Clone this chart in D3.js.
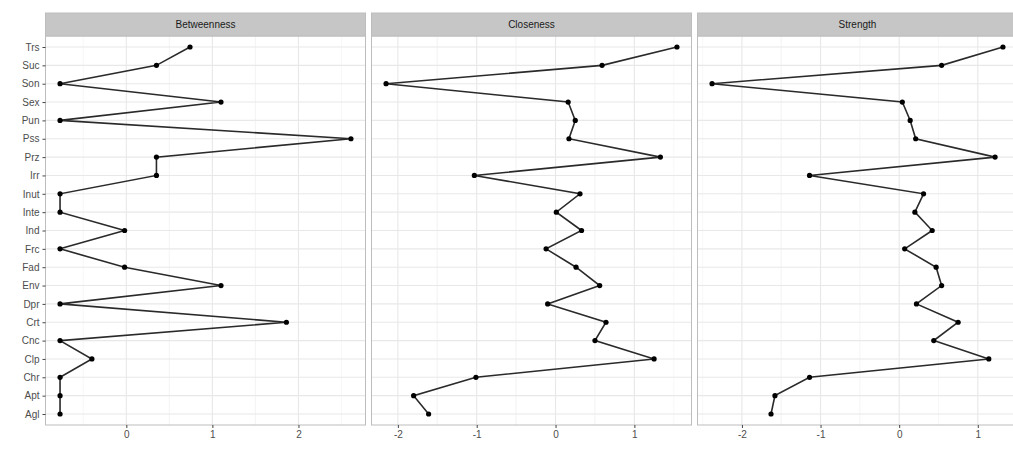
<!DOCTYPE html>
<html>
<head>
<meta charset="utf-8">
<script src="https://cdn.jsdelivr.net/npm/d3@7"></script>
<style>
  body { margin: 0; background: #fff; }
  svg { display: block; font-family: "Liberation Sans", Arial, sans-serif; }
</style>
</head>
<body>
<script>
// Nodes, bottom to top
const categories = ["Agl", "Apt", "Chr", "Clp", "Cnc", "Crt", "Dpr", "Env", "Fad", "Frc", "Ind",
    "Inte", "Inut", "Irr", "Prz", "Pss", "Pun", "Sex", "Son", "Suc", "Trs"];

const panels = ["Betweenness", "Closeness", "Strength"];

const betweenness = [-0.77, -0.77, -0.77, -0.40, -0.77, 1.86, -0.77, 1.10, -0.02, -0.77, -0.02,
    -0.77, -0.77, 0.35, 0.35, 2.61, -0.77, 1.10, -0.77, 0.35, 0.74];
const closeness = [-1.61, -1.80, -1.01, 1.25, 0.50, 0.64, -0.10, 0.56, 0.26, -0.12, 0.33,
    0.01, 0.31, -1.03, 1.33, 0.17, 0.25, 0.16, -2.15, 0.59, 1.54];
const strength = [-1.63, -1.58, -1.14, 1.14, 0.44, 0.75, 0.22, 0.54, 0.47, 0.07, 0.42,
    0.20, 0.31, -1.14, 1.22, 0.21, 0.14, 0.04, -2.38, 0.54, 1.32];

const betweennessTicks = [0, 1, 2];
const closenessTicks = [-2, -1, 0, 1];
const strengthTicks = [-2, -1, 0, 1];

const width = 1013, height = 449;
const margin = { top: 13, left: 45.5, bottom: 24 };
const stripH = 23;
const panelW = 320, gap = 6;
const panelTop = margin.top + stripH;
const panelBottom = height - margin.bottom;

const svg = d3.select("body").append("svg")
    .attr("width", width)
    .attr("height", height);

// discrete y scale, padded like ggplot's default
const yScale = d3.scalePoint()
    .domain(categories)
    .range([panelBottom, panelTop])
    .padding(0.6);

const series = [
    { name: panels[0], values: betweenness, ticks: betweennessTicks },
    { name: panels[1], values: closeness, ticks: closenessTicks },
    { name: panels[2], values: strength, ticks: strengthTicks },
];

series.forEach((s, i) => {
    const x0 = margin.left + i * (panelW + gap);
    const ext = d3.extent(s.values);
    const pad = (ext[1] - ext[0]) * 0.05;
    const xScale = d3.scaleLinear()
        .domain([ext[0] - pad, ext[1] + pad])
        .range([x0, x0 + panelW]);

    const g = svg.append("g");

    // minor grid
    const minor = [];
    s.ticks.forEach(t => minor.push(t - 0.5, t + 0.5));
    g.selectAll(".minor")
        .data(minor.filter(v => v > xScale.domain()[0] && v < xScale.domain()[1]))
        .enter().append("line")
        .attr("x1", d => xScale(d)).attr("x2", d => xScale(d))
        .attr("y1", panelTop).attr("y2", panelBottom)
        .attr("stroke", "#f3f3f3").attr("stroke-width", 0.6);

    // major grid
    g.selectAll(".vgrid")
        .data(s.ticks)
        .enter().append("line")
        .attr("x1", d => xScale(d)).attr("x2", d => xScale(d))
        .attr("y1", panelTop).attr("y2", panelBottom)
        .attr("stroke", "#e8e8e8").attr("stroke-width", 1.1);

    g.selectAll(".hgrid")
        .data(categories)
        .enter().append("line")
        .attr("x1", x0).attr("x2", x0 + panelW)
        .attr("y1", d => yScale(d)).attr("y2", d => yScale(d))
        .attr("stroke", "#e8e8e8").attr("stroke-width", 1.1);

    // line + points
    const pts = categories.map((c, k) => ({ c: c, v: s.values[k] }));
    const line = d3.line()
        .x(d => xScale(d.v))
        .y(d => yScale(d.c));

    g.append("path")
        .datum(pts)
        .attr("d", line)
        .attr("fill", "none")
        .attr("stroke", "#2a2a2a")
        .attr("stroke-width", 1.6);

    g.selectAll(".pt")
        .data(pts)
        .enter().append("circle")
        .attr("cx", d => xScale(d.v))
        .attr("cy", d => yScale(d.c))
        .attr("r", 2.6)
        .attr("fill", "#000");

    // panel border
    g.append("rect")
        .attr("x", x0).attr("y", panelTop)
        .attr("width", panelW).attr("height", panelBottom - panelTop)
        .attr("fill", "none")
        .attr("stroke", "#bdbdbd").attr("stroke-width", 1);

    // strip
    g.append("rect")
        .attr("x", x0).attr("y", margin.top)
        .attr("width", panelW).attr("height", stripH)
        .attr("fill", "#c6c6c6")
        .attr("stroke", "#bdbdbd").attr("stroke-width", 1);
    g.append("text")
        .attr("x", x0 + panelW / 2)
        .attr("y", margin.top + stripH / 2)
        .attr("dy", "0.35em")
        .attr("text-anchor", "middle")
        .attr("font-size", 10)
        .attr("fill", "#1a1a1a")
        .text(s.name);

    // x axis
    const xAxis = g.append("g")
        .attr("transform", `translate(0,${panelBottom})`)
        .call(d3.axisBottom(xScale).tickValues(s.ticks).tickFormat(d => String(d)).tickSize(3).tickPadding(3));
    xAxis.select(".domain").remove();
    xAxis.selectAll("line").attr("stroke", "#444");
    xAxis.selectAll("text").attr("font-size", 10).attr("fill", "#4d4d4d");

    if (i === 0) {
        const yAxis = g.append("g")
            .attr("transform", `translate(${x0},0)`)
            .call(d3.axisLeft(yScale).tickSize(3).tickPadding(3));
        yAxis.select(".domain").remove();
        yAxis.selectAll("line").attr("stroke", "#444");
        yAxis.selectAll("text").attr("font-size", 10).attr("fill", "#4d4d4d");
    }
});
</script>
</body>
</html>
